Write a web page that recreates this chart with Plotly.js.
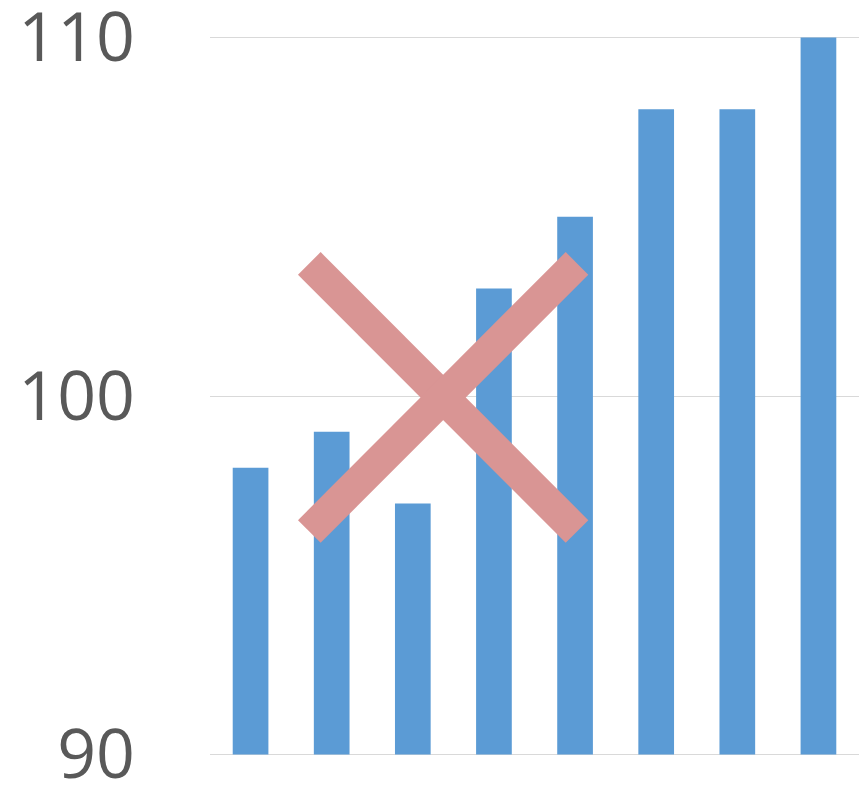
<!DOCTYPE html>
<html>
<head>
<meta charset="utf-8">
<script src="https://cdn.plot.ly/plotly-3.0.1.min.js"></script>
<style>html,body{margin:0;padding:0;background:#fff;}#chart{width:859px;height:785px;}</style>
</head>
<body>
<div id="chart"></div>
<script>
const categories = ["1", "2", "3", "4", "5", "6", "7", "8"];
const values = [98, 99, 97, 103, 105, 108, 108, 110];
const yTicks = [90, 100, 110];
const axisMin = 90;

const trace = {
  type: "bar",
  x: categories,
  base: axisMin,
  y: values.map(v => v - axisMin),
  marker: { color: "#5B9BD5" },
  hoverinfo: "skip"
};

const layout = {
  width: 859,
  height: 785,
  margin: { l: 210, r: 0, t: 34, b: 27, pad: 0 },
  paper_bgcolor: "#ffffff",
  plot_bgcolor: "#ffffff",
  showlegend: false,
  bargap: 0.56,
  xaxis: {
    type: "category",
    range: [-0.5, 7.5],
    showticklabels: false,
    showgrid: false,
    zeroline: false,
    showline: false,
    ticks: ""
  },
  yaxis: {
    range: [89.9, 110.1],
    tickvals: yTicks,
    ticktext: yTicks.map(String),
    showgrid: true,
    gridcolor: "#D9D9D9",
    gridwidth: 1,
    zeroline: false,
    showline: false,
    ticks: "",
    ticklabeloverflow: "allow",
    ticklabelstandoff: 74,
    tickfont: { family: "Open Sans, Liberation Sans, sans-serif", size: 68, color: "#595959" }
  },
  shapes: [
    { type: "line", xref: "paper", yref: "y", x0: 0.153, y0: 103.7, x1: 0.5655, y1: 96.22,
      line: { color: "#D99594", width: 32 } },
    { type: "line", xref: "paper", yref: "y", x0: 0.153, y0: 96.22, x1: 0.5655, y1: 103.7,
      line: { color: "#D99594", width: 32 } }
  ]
};

Plotly.newPlot("chart", [trace], layout, { staticPlot: true, displayModeBar: false });
</script>
</body>
</html>
